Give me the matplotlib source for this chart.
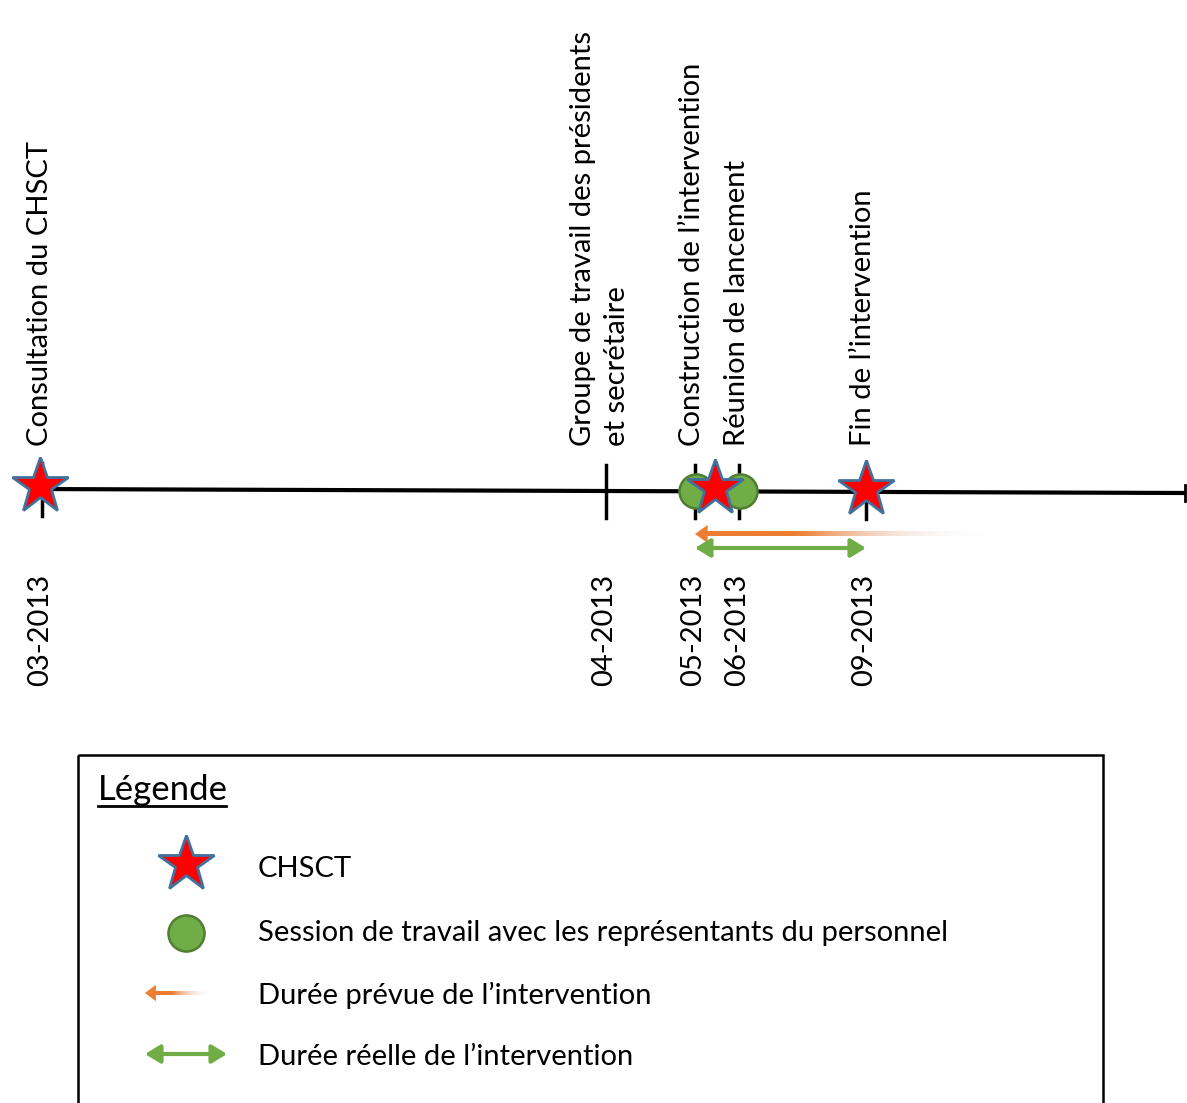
import numpy as np
import matplotlib
matplotlib.use("Agg")
import matplotlib.pyplot as plt
from matplotlib.patches import Rectangle

plt.rcParams['font.family'] = ['Lato', 'DejaVu Sans']

# ---- data ----
months = ['03-2013', '04-2013', '05-2013', '06-2013', '09-2013']
month_pos = [42, 606, 695, 739, 866]          # position along the timeline
event_labels = ['Consultation du CHSCT',
                'Groupe de travail des présidents\net secrétaire',
                'Construction de l’intervention',
                'Réunion de lancement',
                'Fin de l’intervention']
event_pos = [40, 600, 692, 737, 863]
chsct_pos = [40, 715, 866]
session_pos = [696, 740]
planned_span = [695, 990]
actual_span = [695, 866]
legend_labels = ['CHSCT',
                 'Session de travail avec les représentants du personnel',
                 'Durée prévue de l’intervention',
                 'Durée réelle de l’intervention']

# ---- styles ----
ORANGE = '#ED7D31'
GREEN = '#70AD47'
GREEN_EDGE = '#507E32'
STAR_EDGE = '#41719C'
FS = 21

fig = plt.figure(figsize=(11.87, 11.03), dpi=100)
ax = fig.add_axes([0, 0, 1, 1])
ax.set_xlim(0, 1187)
ax.set_ylim(1103, 0)
ax.axis('off')

x_start, x_end = 30, 1185
def ty(x):
    return 489 + 4 * (np.asarray(x, float) - x_start) / (x_end - x_start)

# timeline
ax.plot([x_start, x_end], [ty(x_start), ty(x_end)], color='black', lw=3, solid_capstyle='butt', zorder=2)
ax.plot([x_end, x_end], [ty(x_end) - 8, ty(x_end) + 8], color='black', lw=2, zorder=2)

# ticks
for p in month_pos:
    ax.plot([p, p], [ty(p) - 26, ty(p) + 27], color='black', lw=2.5, zorder=2)

# month labels
for p, m in zip(month_pos, months):
    ax.text(p - 2, 574, m, rotation=90, ha='center', va='top', fontsize=FS)

# event labels
for p, lab in zip(event_pos, event_labels):
    ax.text(p, 446, lab, rotation=90, ha='center', va='bottom', fontsize=FS,
            multialignment='left', linespacing=1.35)

# session markers
ax.plot(session_pos, ty(session_pos), 'o', ms=24.5, mfc=GREEN, mec=GREEN_EDGE, mew=1.8, zorder=3)
# CHSCT markers
ax.plot(chsct_pos, ty(chsct_pos) - 3, '*', ms=42, mfc='red', mec=STAR_EDGE, mew=2, zorder=4)

def gradient_arrow(x0, x1, y, h=5, head_len=14, head_w=10):
    n = 256
    t = np.linspace(0, 1, n)
    a = np.where(t < 0.3, 1.0, np.clip(1 - (t - 0.3) / 0.7, 0, 1)) ** 1.2
    base = np.array(matplotlib.colors.to_rgb(ORANGE))
    tail = np.array([0.94, 0.96, 1.0])
    rgb = base[None, :] * a[:, None] + tail[None, :] * (1 - a[:, None])
    rgba = np.concatenate([rgb, np.clip(a + 0.15 * (1 - t), 0, 1)[:, None]], axis=1)
    img = rgba[None, :, :]
    ax.imshow(img, extent=(x0 + head_len * 0.7, x1, y + h / 2, y - h / 2),
              aspect='auto', interpolation='bilinear', zorder=3)
    ax.annotate('', xy=(x0, y), xytext=(x0 + head_len, y),
                arrowprops=dict(arrowstyle='-|>,head_length=%g,head_width=%g' % (head_len / 14 * 0.9, head_w / 14 * 0.9),
                                color=ORANGE, lw=0.1, shrinkA=0, shrinkB=0), zorder=3)

def double_arrow(x0, x1, y):
    ax.annotate('', xy=(x1, y), xytext=(x0, y),
                arrowprops=dict(arrowstyle='<|-|>,head_length=0.9,head_width=0.55',
                                color=GREEN, lw=3, shrinkA=0, shrinkB=0), zorder=3)

gradient_arrow(planned_span[0], planned_span[1], 534)
double_arrow(actual_span[0], actual_span[1], 548)

# ---- legend box ----
ax.add_patch(Rectangle((78, 755), 1103 - 78, 400, fill=False, ec='black', lw=1.8, zorder=1))
ax.text(98, 790, 'Légende', fontsize=25, ha='left', va='center')
ax.plot([98, 226], [806, 806], color='black', lw=2)

ly = [866, 930, 992, 1054]
ax.plot([186], [ly[0] - 2], '*', ms=42, mfc='red', mec=STAR_EDGE, mew=2)
ax.plot([186], [ly[1] + 3], 'o', ms=26, mfc=GREEN, mec=GREEN_EDGE, mew=1.8)
gradient_arrow(145, 212, ly[2] + 1, h=4, head_len=12, head_w=9)
double_arrow(145, 227, ly[3])
for y, lab in zip(ly, legend_labels):
    ax.text(258, y + 3, lab, fontsize=FS, ha='left', va='center')

ax.set_xlim(0, 1187)
ax.set_ylim(1103, 0)
fig.savefig('out.png', dpi=100)
